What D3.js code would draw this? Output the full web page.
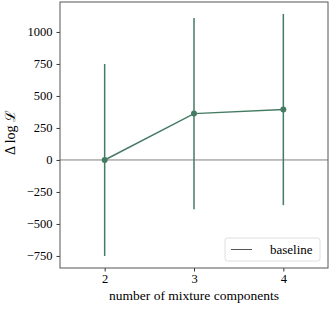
<!DOCTYPE html>
<html>
<head>
<meta charset="utf-8">
<script src="https://cdn.jsdelivr.net/npm/d3@7"></script>
<style>
body { margin: 0; background: #fff; }
text { font-family: "Liberation Serif", "DejaVu Serif", serif; }
</style>
</head>
<body>
<svg width="330" height="311"></svg>
<script>
// data
var components = [2, 3, 4];
var deltaLogL = [0, 362, 395];
var errLow = [-750, -385, -353];
var errHigh = [750, 1109, 1141];
var yTicks = [-750, -500, -250, 0, 250, 500, 750, 1000];

var svg = d3.select("svg"),
margin = {top: 2, right: 2, bottom: 43, left: 60},
width = +svg.attr("width") - margin.left - margin.right,
height = +svg.attr("height") - margin.top - margin.bottom;

var color = "#457b63";

var x = d3.scaleLinear().domain([1.5, 4.5]).range([0, width]),
y = d3.scaleLinear().domain([-844, 1234]).range([height, 0]);

var g = svg.append("g")
	.attr("transform", "translate(" + margin.left + "," + margin.top + ")");

// baseline
g.append("line")
	.attr("x1", 0).attr("x2", width)
	.attr("y1", y(0)).attr("y2", y(0))
	.attr("stroke", "#808080").attr("stroke-width", 1);

var data = components.map(function (c, i) {
	return {n: c, v: deltaLogL[i], lo: errLow[i], hi: errHigh[i]};
});

g.selectAll(".err").data(data).enter().append("line")
	.attr("class", "err")
	.attr("x1", function (d) { return x(d.n); })
	.attr("x2", function (d) { return x(d.n); })
	.attr("y1", function (d) { return y(d.lo); })
	.attr("y2", function (d) { return y(d.hi); })
	.attr("stroke", color).attr("stroke-width", 1.5);

var line = d3.line()
	.x(function (d) { return x(d.n); })
	.y(function (d) { return y(d.v); });

g.append("path").datum(data)
	.attr("d", line)
	.attr("fill", "none")
	.attr("stroke", color).attr("stroke-width", 1.5);

g.selectAll(".pt").data(data).enter().append("circle")
	.attr("class", "pt")
	.attr("cx", function (d) { return x(d.n); })
	.attr("cy", function (d) { return y(d.v); })
	.attr("r", 3)
	.attr("fill", color);

// axes
var xAxis = g.append("g")
	.attr("transform", "translate(0," + height + ")")
	.call(d3.axisBottom(x).tickValues(components).tickFormat(d3.format("d")).tickSizeOuter(0).tickSize(3.5).tickPadding(3));
var yAxis = g.append("g")
	.call(d3.axisLeft(y).tickValues(yTicks).tickFormat(function (d) { return d < 0 ? "\u2212" + (-d) : d; }).tickSizeOuter(0).tickSize(3.5).tickPadding(4));

[xAxis, yAxis].forEach(function (a) {
	a.select(".domain").remove();
	a.selectAll("text").attr("font-size", 12.5).attr("fill", "#000")
		.style("font-family", "Liberation Serif, serif");
	a.selectAll("line").attr("stroke", "#000").attr("stroke-width", 0.8);
});

// frame
g.append("rect")
	.attr("width", width).attr("height", height)
	.attr("fill", "none").attr("stroke", "#555").attr("stroke-width", 1);

// labels
svg.append("text")
	.attr("x", margin.left + width / 2).attr("y", 300)
	.attr("text-anchor", "middle").attr("font-size", 13.5)
	.text("number of mixture components");

svg.append("text")
	.attr("transform", "translate(15," + (margin.top + y(215)) + ") rotate(-90)")
	.attr("text-anchor", "middle").attr("font-size", 14)
	.text("\u0394 log \u2112");

// legend
var lg = svg.append("g").attr("transform", "translate(225,238)");
lg.append("rect")
	.attr("width", 95).attr("height", 23).attr("rx", 2.5)
	.attr("fill", "#fff").attr("stroke", "#d6d6d6").attr("stroke-width", 0.8);
lg.append("line")
	.attr("x1", 6).attr("x2", 27).attr("y1", 11.5).attr("y2", 11.5)
	.attr("stroke", "#555").attr("stroke-width", 1);
lg.append("text")
	.attr("x", 45).attr("y", 16).attr("font-size", 13)
	.text("baseline");
</script>
</body>
</html>
